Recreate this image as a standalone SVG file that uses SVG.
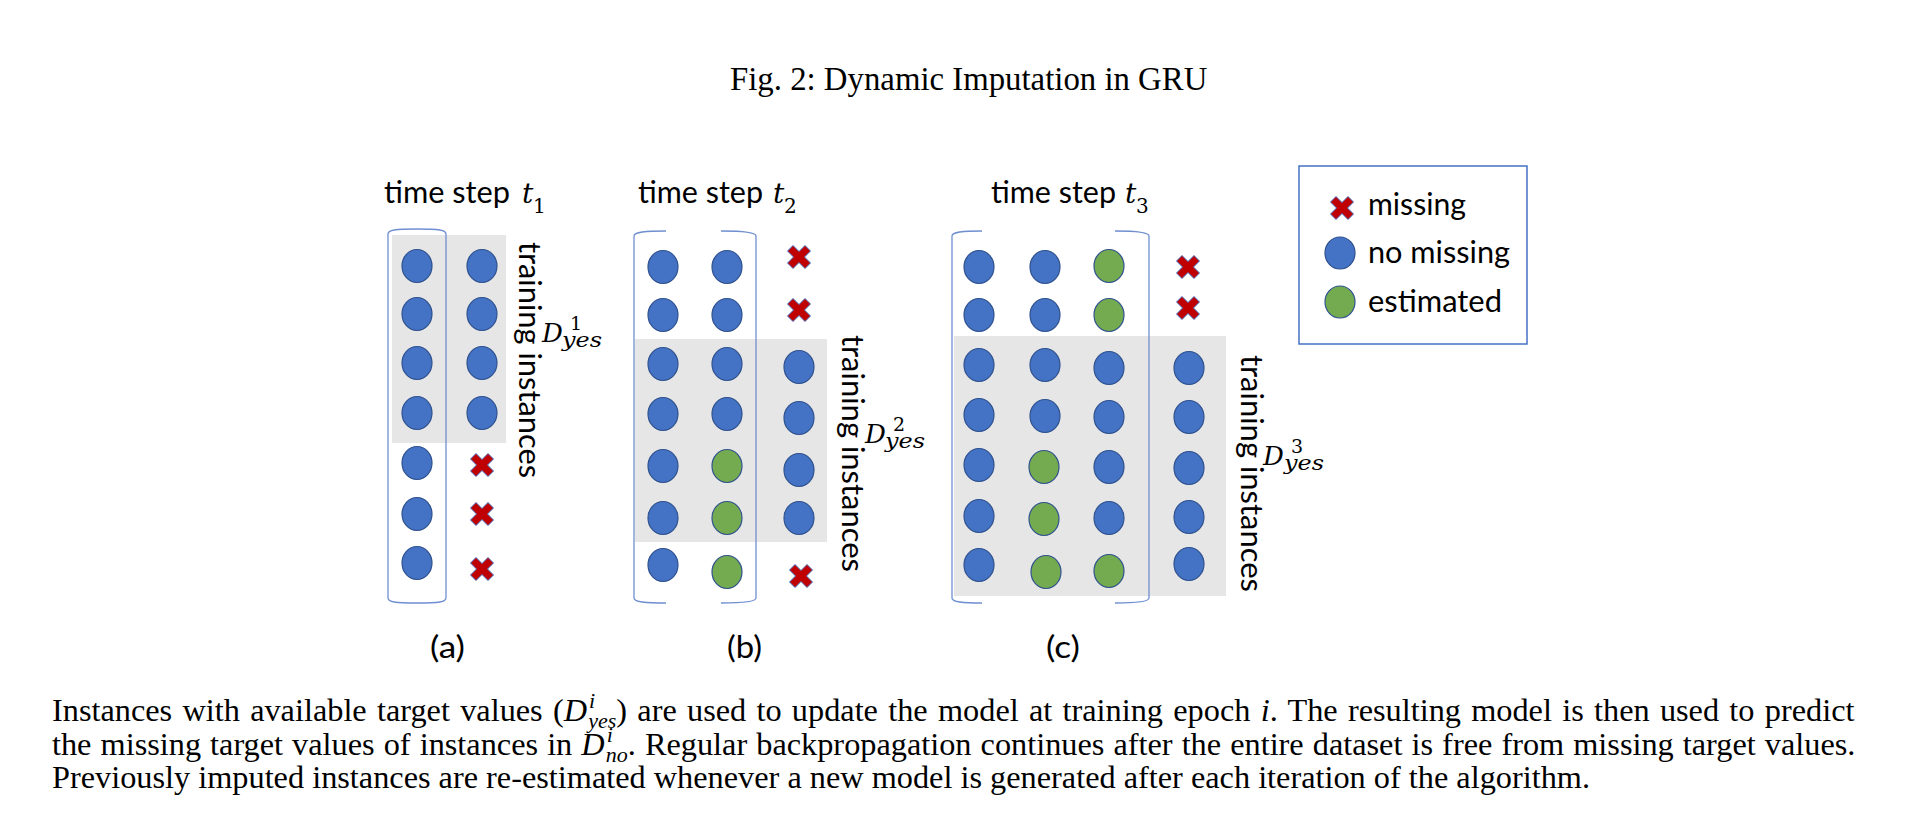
<svg xmlns="http://www.w3.org/2000/svg" xmlns:xlink="http://www.w3.org/1999/xlink" width="1914" height="838" viewBox="0 0 1914 838">
<style>
.bg{fill:#ffffff}
.blue{fill:#4472C4;stroke:#2F528F;stroke-width:1.2}
.green{fill:#74AA50;stroke:#2F528F;stroke-width:1.2}
.gray{fill:#E7E6E6}
.brk{fill:none;stroke:#6F8FD0;stroke-width:1.3}
.sans{font-family:Lato,"Liberation Sans",sans-serif;font-size:31px;fill:#000}
.math{font-family:"DejaVu Serif","Liberation Serif",serif;font-style:italic;fill:#000}
.num{font-family:"DejaVu Serif","Liberation Serif",serif;font-style:normal;fill:#000}
.cap{font-family:"Liberation Serif","Times New Roman",serif;font-size:32.3px;fill:#000}
.title{font-family:"Liberation Serif","Times New Roman",serif;font-size:32.8px;fill:#000}
.legend{fill:#fff;stroke:#4472C4;stroke-width:1.5}
</style>
<defs>
<path id="xm" d="M-11.5,-6 L-6,-11.5 L0,-5.5 L6,-11.5 L11.5,-6 L5.5,0 L11.5,6 L6,11.5 L0,5.5 L-6,11.5 L-11.5,6 L-5.5,0 Z" fill="#C00000" stroke="#4472C4" stroke-width="1"/>
<ellipse id="b" rx="15" ry="16.5" class="blue"/>
<ellipse id="g" rx="15" ry="16.5" class="green"/>
</defs>
<rect class="bg" x="0" y="0" width="1914" height="838"/>

<text id="title" class="title" x="730" y="90">Fig. 2: Dynamic Imputation in GRU</text>

<g id="panel-a">
<rect class="gray" x="392" y="235" width="114" height="208"/>
<path class="brk" d="M417,229 C395,229 388,230 388,234 L388,598 C388,602 395,603 417,603"/>
<path class="brk" d="M417,229 C439,229 446,230 446,234 L446,598 C446,602 439,603 417,603"/>
<text class="sans" x="384" y="203" textLength="126" lengthAdjust="spacingAndGlyphs">time step</text>
<text class="math" x="522" y="203" font-size="28">t</text>
<text class="num" x="533" y="213" font-size="20">1</text>
<g id="a-col1">
<use xlink:href="#b" x="417" y="266"/><use xlink:href="#b" x="417" y="314"/><use xlink:href="#b" x="417" y="363"/><use xlink:href="#b" x="417" y="413"/><use xlink:href="#b" x="417" y="463"/><use xlink:href="#b" x="417" y="514"/><use xlink:href="#b" x="417" y="563"/>
</g>
<g id="a-col2">
<use xlink:href="#b" x="482" y="266"/><use xlink:href="#b" x="482" y="314"/><use xlink:href="#b" x="482" y="363"/><use xlink:href="#b" x="482" y="413"/>
<use xlink:href="#xm" x="482" y="465"/><use xlink:href="#xm" x="482" y="514"/><use xlink:href="#xm" x="482" y="569"/>
</g>
<text class="sans" transform="translate(519,242) rotate(90)" x="0" y="0" textLength="236" lengthAdjust="spacingAndGlyphs">training instances</text>
<text class="math" x="542" y="342" font-size="26">D</text>
<text class="num" x="570" y="330" font-size="19">1</text>
<text class="math" x="562" y="347" font-size="21" textLength="40" lengthAdjust="spacingAndGlyphs">yes</text>
<text class="sans" x="430" y="658" textLength="35" lengthAdjust="spacingAndGlyphs">(a)</text>
</g>

<g id="panel-b">
<rect class="gray" x="635" y="339" width="192" height="203"/>
<path class="brk" d="M666,231 C645,231 634,232 634,236 L634,598 C634,602 645,603 666,603"/>
<path class="brk" d="M721,231 C742,231 756,232 756,236 L756,598 C756,602 742,603 721,603"/>
<text class="sans" x="638" y="203" textLength="125" lengthAdjust="spacingAndGlyphs">time step</text>
<text class="math" x="773" y="203" font-size="28">t</text>
<text class="num" x="784" y="213" font-size="20">2</text>
<g id="b-col1">
<use xlink:href="#b" x="663" y="267"/><use xlink:href="#b" x="663" y="315"/><use xlink:href="#b" x="663" y="364"/><use xlink:href="#b" x="663" y="414"/><use xlink:href="#b" x="663" y="466"/><use xlink:href="#b" x="663" y="518"/><use xlink:href="#b" x="663" y="565"/>
</g>
<g id="b-col2">
<use xlink:href="#b" x="727" y="267"/><use xlink:href="#b" x="727" y="315"/><use xlink:href="#b" x="727" y="364"/><use xlink:href="#b" x="727" y="414"/>
<use xlink:href="#g" x="727" y="466"/><use xlink:href="#g" x="727" y="518"/><use xlink:href="#g" x="727" y="572"/>
</g>
<g id="b-col3">
<use xlink:href="#xm" x="799" y="257"/><use xlink:href="#xm" x="799" y="310"/>
<use xlink:href="#b" x="799" y="367"/><use xlink:href="#b" x="799" y="418"/><use xlink:href="#b" x="799" y="470"/><use xlink:href="#b" x="799" y="518"/>
<use xlink:href="#xm" x="801" y="576"/>
</g>
<text class="sans" transform="translate(842,335) rotate(90)" x="0" y="0" textLength="237" lengthAdjust="spacingAndGlyphs">training instances</text>
<text class="math" x="865" y="443" font-size="26">D</text>
<text class="num" x="893" y="431" font-size="19">2</text>
<text class="math" x="885" y="448" font-size="21" textLength="40" lengthAdjust="spacingAndGlyphs">yes</text>
<text class="sans" x="727" y="658" textLength="35" lengthAdjust="spacingAndGlyphs">(b)</text>
</g>

<g id="panel-c">
<rect class="gray" x="954" y="336" width="272" height="260"/>
<path class="brk" d="M982,231 C962,231 952,232 952,236 L952,598 C952,602 962,603 982,603"/>
<path class="brk" d="M1115,231 C1135,231 1149,232 1149,236 L1149,598 C1149,602 1135,603 1115,603"/>
<text class="sans" x="991" y="203" textLength="125" lengthAdjust="spacingAndGlyphs">time step</text>
<text class="math" x="1125" y="203" font-size="28">t</text>
<text class="num" x="1136" y="213" font-size="20">3</text>
<g id="c-col1">
<use xlink:href="#b" x="979" y="267"/><use xlink:href="#b" x="979" y="315"/><use xlink:href="#b" x="979" y="365"/><use xlink:href="#b" x="979" y="415"/><use xlink:href="#b" x="979" y="465"/><use xlink:href="#b" x="979" y="516"/><use xlink:href="#b" x="979" y="565"/>
</g>
<g id="c-col2">
<use xlink:href="#b" x="1045" y="267"/><use xlink:href="#b" x="1045" y="315"/><use xlink:href="#b" x="1045" y="365"/><use xlink:href="#b" x="1045" y="416"/>
<use xlink:href="#g" x="1044" y="467"/><use xlink:href="#g" x="1044" y="519"/><use xlink:href="#g" x="1046" y="572"/>
</g>
<g id="c-col3">
<use xlink:href="#g" x="1109" y="266"/><use xlink:href="#g" x="1109" y="315"/>
<use xlink:href="#b" x="1109" y="368"/><use xlink:href="#b" x="1109" y="417"/><use xlink:href="#b" x="1109" y="467"/><use xlink:href="#b" x="1109" y="518"/>
<use xlink:href="#g" x="1109" y="571"/>
</g>
<g id="c-col4">
<use xlink:href="#xm" x="1188" y="267"/><use xlink:href="#xm" x="1188" y="308"/>
<use xlink:href="#b" x="1189" y="368"/><use xlink:href="#b" x="1189" y="417"/><use xlink:href="#b" x="1189" y="468"/><use xlink:href="#b" x="1189" y="517"/><use xlink:href="#b" x="1189" y="564"/>
</g>
<text class="sans" transform="translate(1241,355) rotate(90)" x="0" y="0" textLength="237" lengthAdjust="spacingAndGlyphs">training instances</text>
<text class="math" x="1263" y="465" font-size="26">D</text>
<text class="num" x="1291" y="453" font-size="19">3</text>
<text class="math" x="1284" y="470" font-size="21" textLength="40" lengthAdjust="spacingAndGlyphs">yes</text>
<text class="sans" x="1046" y="658" textLength="34" lengthAdjust="spacingAndGlyphs">(c)</text>
</g>

<g id="legend">
<rect class="legend" x="1299" y="166" width="228" height="178"/>
<use xlink:href="#xm" x="1342" y="208"/>
<text class="sans" x="1368" y="215" textLength="98" lengthAdjust="spacingAndGlyphs">missing</text>
<ellipse class="blue" cx="1340" cy="253" rx="15" ry="16"/>
<text class="sans" x="1368" y="263" textLength="142" lengthAdjust="spacingAndGlyphs">no missing</text>
<ellipse class="green" cx="1340" cy="302" rx="15" ry="16"/>
<text class="sans" x="1368" y="312" textLength="134" lengthAdjust="spacingAndGlyphs">estimated</text>
</g>

<g id="connectors"></g>

<g id="caption">
<text class="cap" x="52" y="721" word-spacing="2.2">Instances with available target values (<tspan font-style="italic">D</tspan><tspan font-style="italic" font-size="22" dx="2" dy="-13">i</tspan><tspan font-style="italic" font-size="22" dx="-7" dy="20">yes</tspan><tspan dy="-7">) are used to update the model at training epoch </tspan><tspan font-style="italic">i</tspan>. The resulting model is then used to predict</text>
<text class="cap" x="52" y="755" word-spacing="1.0">the missing target values of instances in <tspan font-style="italic">D</tspan><tspan font-style="italic" font-size="22" dx="2" dy="-13">i</tspan><tspan font-style="italic" font-size="22" dx="-7" dy="20">no</tspan><tspan dy="-7">. Regular backpropagation continues after the entire dataset is free from missing target values.</tspan></text>
<text class="cap" x="52" y="788">Previously imputed instances are re-estimated whenever a new model is generated after each iteration of the algorithm.</text>
</g>
</svg>
